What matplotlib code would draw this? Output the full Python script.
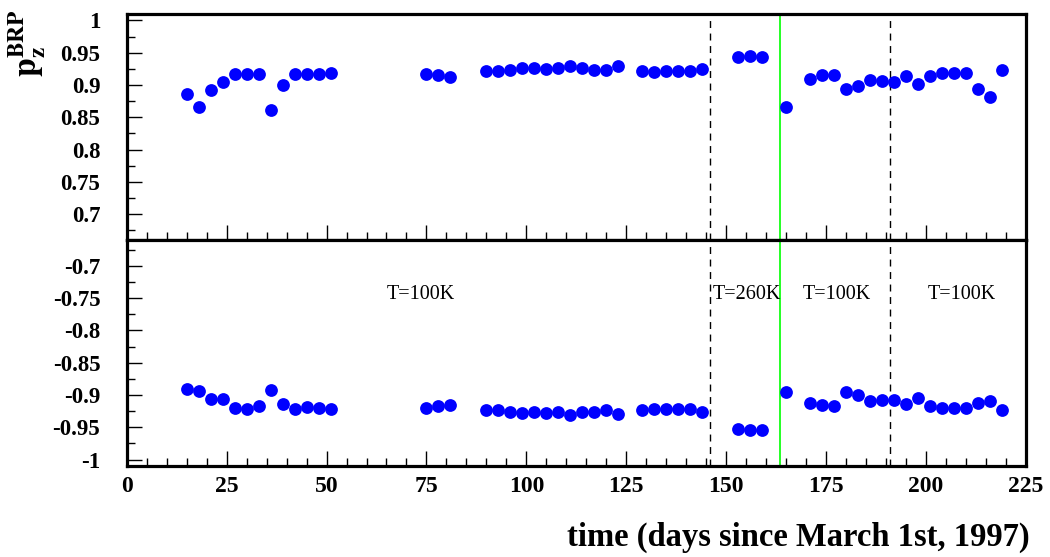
import matplotlib
matplotlib.use("Agg")
import matplotlib.pyplot as plt
from matplotlib.ticker import MultipleLocator, FuncFormatter

plt.rcParams['font.family'] = ['Liberation Serif', 'DejaVu Serif']
plt.rcParams['mathtext.fontset'] = 'stix'

# Measurement days (days since March 1st, 1997)
days = [15, 18, 21, 24, 27, 30, 33, 36, 39, 42, 45, 48, 51,
        75, 78, 81,
        90, 93, 96, 99, 102, 105, 108, 111, 114, 117, 120, 123,
        129, 132, 135, 138, 141, 144,
        153, 156, 159,
        165, 171, 174, 177, 180, 183, 186, 189, 192, 195, 198, 201, 204,
        207, 210, 213, 216, 219]

# Positive helicity polarisation
pz_pos = [0.886, 0.866, 0.893, 0.904, 0.917, 0.917, 0.917, 0.861, 0.900,
          0.917, 0.917, 0.917, 0.918,
          0.917, 0.916, 0.912,
          0.922, 0.921, 0.924, 0.927, 0.926, 0.925, 0.926, 0.929, 0.926,
          0.924, 0.923, 0.929,
          0.922, 0.920, 0.921, 0.921, 0.921, 0.925,
          0.944, 0.945, 0.943,
          0.866, 0.910, 0.915, 0.915, 0.894, 0.899, 0.908, 0.906, 0.904,
          0.914, 0.901, 0.914, 0.918, 0.918, 0.919, 0.894, 0.881, 0.923]

# Negative helicity polarisation
pz_neg = [-0.890, -0.894, -0.907, -0.907, -0.920, -0.921, -0.917, -0.893,
          -0.914, -0.921, -0.919, -0.920, -0.921,
          -0.920, -0.917, -0.915,
          -0.924, -0.924, -0.927, -0.928, -0.927, -0.928, -0.927, -0.931,
          -0.927, -0.926, -0.924, -0.930,
          -0.924, -0.922, -0.922, -0.922, -0.922, -0.926,
          -0.952, -0.955, -0.954,
          -0.895, -0.912, -0.916, -0.917, -0.895, -0.900, -0.910, -0.908,
          -0.908, -0.914, -0.905, -0.917, -0.920, -0.920, -0.920, -0.912,
          -0.909, -0.924]

# Target temperature changes (dashed) and the special marker (green)
dashed_days = [146, 191]
green_day = 163.5

temp_labels = ["T=100K", "T=260K", "T=100K", "T=100K"]
temp_label_x = [65.0, 146.6, 169.1, 200.3]
temp_label_y = -0.745

fig = plt.figure(figsize=(10.5, 5.57), dpi=100)
left, right = 126.7 / 1050, 1026 / 1050
top_y, mid_y, bot_y = 1 - 14 / 557, 1 - 240 / 557, 1 - 466 / 557
ax_top = fig.add_axes([left, mid_y, right - left, top_y - mid_y])
ax_bot = fig.add_axes([left, bot_y, right - left, mid_y - bot_y])

fmt = FuncFormatter(lambda v, p: ('%g' % round(v, 3)))

for ax, vals, ylim in ((ax_top, pz_pos, (0.66, 1.01)),
                       (ax_bot, pz_neg, (-1.01, -0.66))):
    ax.plot(days, vals, 'o', color='#0000ff', markersize=9.2,
            markeredgewidth=0, zorder=3)
    ax.set_xlim(0, 225)
    ax.set_ylim(*ylim)
    for d in dashed_days:
        ax.axvline(d, color='black', lw=1.0, ls=(0, (5, 4)), zorder=2)
    ax.axvline(green_day, color='#00ff00', lw=1.2, zorder=2)
    for s in ax.spines.values():
        s.set_linewidth(2.3)
    ax.xaxis.set_major_locator(MultipleLocator(25))
    ax.xaxis.set_minor_locator(MultipleLocator(5))
    ax.yaxis.set_major_locator(MultipleLocator(0.05))
    ax.yaxis.set_minor_locator(MultipleLocator(0.025))
    ax.yaxis.set_major_formatter(fmt)
    ax.tick_params(which='both', direction='in', top=False, right=False,
                   width=1.0, color='black')
    ax.tick_params(which='major', length=11)
    ax.tick_params(which='minor', length=5.5)
    ax.tick_params(axis='y', which='major', pad=19, labelsize=16.5)
    ax.tick_params(axis='x', which='major', pad=7.5, labelsize=17)
    for lbl in ax.get_yticklabels() + ax.get_xticklabels():
        lbl.set_fontweight('bold')

ax_top.tick_params(axis='x', labelbottom=False)

for txt, x in zip(temp_labels, temp_label_x):
    ax_bot.text(x, temp_label_y, txt, fontsize=14.5, ha='left', va='center')

fig.text(1030 / 1050, 1 - 537 / 557, "time (days since March 1st, 1997)",
         fontsize=23.5, fontweight='bold', ha='right', va='center')
fig.text(27 / 1050, 1 - 9 / 557, r'$\mathbf{p}_{\mathbf{z}}^{\mathbf{BRP}}$',
         fontsize=24, rotation=90, ha='center', va='top')

fig.savefig("out.png", dpi=100)
